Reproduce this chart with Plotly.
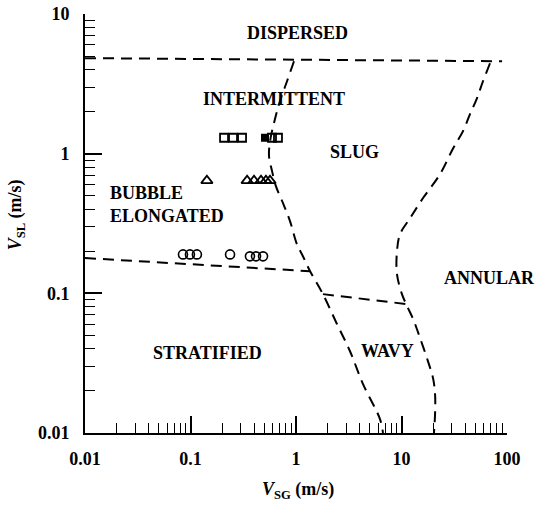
import math
import plotly.graph_objects as go

# Flow-pattern map: superficial gas velocity vs superficial liquid velocity (m/s)

# --- transition boundaries ---
dispersed_x = [0.01, 89.8]
dispersed_y = [4.83, 4.59]

slug_x = [0.957, 0.822, 0.705, 0.632, 0.568, 0.555, 0.593, 0.645, 0.753, 0.877,
          1.02, 1.16, 1.36, 1.80, 2.45, 3.25, 4.32, 6.25, 6.68]
slug_y = [4.59, 3.30, 2.38, 1.77, 1.23, 0.96, 0.750, 0.585, 0.442, 0.329,
          0.225, 0.185, 0.144, 0.0987, 0.0601, 0.0385, 0.0224, 0.01257, 0.01]

stratified_x = [0.01, 1.36]
stratified_y = [0.179, 0.144]

wavy_x = [1.80, 11.3]
wavy_y = [0.0987, 0.0837]

annular_x = [69.0, 59.2, 52.0, 44.6, 38.3, 30.8, 23.2, 16.0, 12.05, 9.68, 9.06,
             9.06, 10.1, 11.3, 12.9, 15.0, 17.8, 19.9, 20.8, 20.8, 20.3]
annular_y = [4.44, 3.30, 2.50, 1.92, 1.45, 1.09, 0.714, 0.481, 0.345, 0.265, 0.200,
             0.137, 0.0987, 0.0809, 0.0653, 0.0478, 0.0327, 0.0247, 0.0190, 0.0137, 0.01]

# --- experimental points ---
sq_open_x = [0.208, 0.253, 0.308, 0.592, 0.675]
sq_open_y = [1.30, 1.30, 1.30, 1.30, 1.30]
sq_fill_x = [0.508]
sq_fill_y = [1.30]

tri_x = [0.143, 0.344, 0.400, 0.466, 0.519, 0.567]
tri_y = [0.641, 0.641, 0.641, 0.641, 0.641, 0.641]

circ_x = [0.0849, 0.0988, 0.115, 0.237, 0.366, 0.418, 0.487]
circ_y = [0.19, 0.19, 0.19, 0.19, 0.184, 0.184, 0.184]

# --- region names ---
region_names = ["DISPERSED", "INTERMITTENT", "SLUG", "STRATIFIED", "WAVY", "ANNULAR"]
region_x = [1.04, 0.618, 3.55, 0.145, 7.36, 68.2]
region_y = [7.3, 2.47, 1.02, 0.0376, 0.0386, 0.129]
bubble_names = ["BUBBLE", "ELONGATED"]
bubble_x = [0.01652, 0.01652]
bubble_y = [0.526, 0.357]

x_ticks = [0.01, 0.1, 1, 10, 100]
x_ticktext = ["0.01", "0.1", "1", "10", "100"]
y_ticks = [0.01, 0.1, 1, 10]
y_ticktext = ["0.01", "0.1", "1", "10"]

SERIF = "Liberation Serif"
dash = dict(color="black", width=2, dash="11px,7px")

fig = go.Figure()
for xs, ys in [(dispersed_x, dispersed_y), (slug_x, slug_y), (stratified_x, stratified_y),
               (wavy_x, wavy_y), (annular_x, annular_y)]:
    fig.add_trace(go.Scatter(x=xs, y=ys, mode="lines", line=dash,
                             line_shape="spline", hoverinfo="skip"))

fig.add_trace(go.Scatter(x=sq_open_x, y=sq_open_y, mode="markers",
                         marker=dict(symbol="square-open", size=8, color="black",
                                     line=dict(width=1.8, color="black"))))
fig.add_trace(go.Scatter(x=sq_fill_x, y=sq_fill_y, mode="markers",
                         marker=dict(symbol="square", size=8, color="black")))
fig.add_trace(go.Scatter(x=tri_x, y=tri_y, mode="markers",
                         marker=dict(symbol="triangle-up-open", size=10, color="black",
                                     line=dict(width=1.8, color="black"))))
fig.add_trace(go.Scatter(x=circ_x, y=circ_y, mode="markers",
                         marker=dict(symbol="circle-open", size=9, color="black",
                                     line=dict(width=1.6, color="black"))))

label_font = dict(family=SERIF, size=18, color="black", weight="bold")
for name, xv, yv in zip(region_names, region_x, region_y):
    fig.add_annotation(x=math.log10(xv), y=math.log10(yv), xref="x", yref="y",
                       text=name, showarrow=False, font=label_font,
                       xanchor="center", yanchor="middle")
for name, xv, yv in zip(bubble_names, bubble_x, bubble_y):
    fig.add_annotation(x=math.log10(xv), y=math.log10(yv), xref="x", yref="y",
                       text=name, showarrow=False, font=label_font,
                       xanchor="left", yanchor="middle")

# axis titles
fig.add_annotation(x=0.505, y=-0.138, xref="paper", yref="paper",
                   text="<i>V</i><sub>SG</sub> (m/s)", showarrow=False,
                   font=label_font, xanchor="center", yanchor="middle")
fig.add_annotation(x=-0.163, y=0.52, xref="paper", yref="paper", textangle=-90,
                   text="<i>V</i><sub>SL</sub> (m/s)", showarrow=False,
                   font=label_font, xanchor="center", yanchor="middle")

def minor_vals(lo, hi):
    return [m * 10 ** e for e in range(lo, hi) for m in range(2, 10)]

axis_common = dict(type="log", showline=True, linecolor="black", linewidth=2,
                   ticks="inside", ticklen=17, tickwidth=1.6, tickcolor="black",
                   showgrid=False, zeroline=False, mirror=False,
                   tickfont=dict(family=SERIF, size=18, color="black", weight="bold"))

fig.update_xaxes(range=[-2, 2], tickvals=x_ticks, ticktext=x_ticktext,
                 ticklabelstandoff=8,
                 minor=dict(ticks="inside", ticklen=10, tickwidth=1.3, tickcolor="black",
                            tickvals=minor_vals(-2, 2), showgrid=False),
                 **axis_common)
fig.update_yaxes(range=[-2, 1], tickvals=y_ticks, ticktext=y_ticktext,
                 ticklabelstandoff=10,
                 minor=dict(ticks="inside", ticklen=10, tickwidth=1.3, tickcolor="black",
                            tickvals=minor_vals(-2, 1), showgrid=False),
                 **axis_common)

fig.update_layout(width=538, height=508, showlegend=False,
                  margin=dict(l=85, r=31, t=14, b=75, autoexpand=False),
                  plot_bgcolor="white", paper_bgcolor="white")

fig.write_html("out.html")
